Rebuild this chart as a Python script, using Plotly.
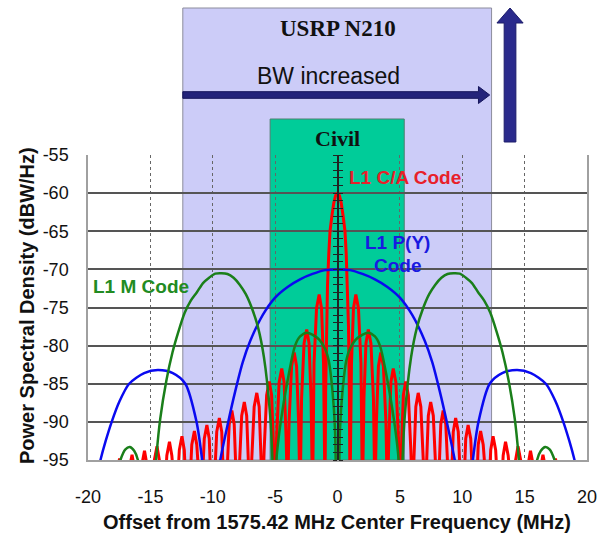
import plotly.graph_objects as go

# ---------------- data ----------------
x_ticks = [-20, -15, -10, -5, 0, 5, 10, 15, 20]
y_ticks = [-95, -90, -85, -80, -75, -70, -65, -60, -55]

# L1 C/A code spectrum, positive-frequency half (MHz, dBW/Hz); symmetric about 0
ca_x = [0, 0.15, 0.3, 0.45, 0.6, 0.7, 0.8, 0.88, 0.95, 1.0,
        1.12, 1.28, 1.47, 1.68, 1.88, 2.0,
        2.12, 2.28, 2.47, 2.68, 2.88, 3.0,
        3.12, 3.28, 3.47, 3.68, 3.88, 4.0,
        4.12, 4.28, 4.47, 4.68, 4.88, 5.0,
        5.12, 5.28, 5.47, 5.68, 5.88, 6.0,
        6.12, 6.28, 6.47, 6.68, 6.88, 7.0,
        7.12, 7.28, 7.47, 7.68, 7.88, 8.0,
        8.12, 8.28, 8.47, 8.68, 8.88, 9.0,
        9.12, 9.28, 9.47, 9.68, 9.88, 10.0,
        10.12, 10.28, 10.47, 10.68, 10.88, 11.0,
        11.12, 11.28, 11.47, 11.68, 11.88, 12.0,
        12.12, 12.28, 12.47, 12.68, 12.88, 13.0,
        13.12, 13.28, 13.47, 13.68, 13.88, 14.0,
        14.12, 14.28, 14.47, 14.68, 14.88, 15.0,
        15.12, 15.28, 15.47, 15.68, 15.88, 16.0,
        16.12, 16.28, 16.47, 16.68, 16.88, 17.0,
        17.12, 17.28, 17.47, 17.68, 17.88, 18.0]
ca_y = [-60, -60.3, -61.3, -63.0, -65.0, -68.0, -72.0, -77.5, -86.0, -100,
        -82.3, -75.1, -73.3, -75.1, -82.3, -100,
        -86.9, -79.7, -77.9, -79.7, -86.9, -100,
        -89.9, -82.7, -80.9, -82.7, -89.9, -100,
        -92.0, -84.8, -83.0, -84.8, -92.0, -100,
        -93.7, -86.5, -84.7, -86.5, -93.7, -100,
        -95.2, -88.0, -86.2, -88.0, -95.2, -100,
        -96.4, -89.2, -87.4, -89.2, -96.4, -100,
        -97.5, -90.3, -88.5, -90.3, -97.5, -100,
        -98.5, -91.3, -89.5, -91.3, -98.5, -100,
        -99.4, -92.2, -90.4, -92.2, -99.4, -100,
        -100, -93.0, -91.2, -93.0, -100, -100,
        -100, -93.7, -91.9, -93.7, -100, -100,
        -100, -94.4, -92.6, -94.4, -100, -100,
        -100, -95.0, -93.2, -95.0, -100, -100,
        -100, -95.6, -93.8, -95.6, -100, -100,
        -100, -96.1, -94.3, -96.1, -100, -100,
        -100, -96.6, -94.8, -96.6, -100, -100]

# L1 P(Y) code spectrum, positive half
py_x = [0, 1, 2, 3, 4, 5, 6, 7, 7.6, 8.2, 8.8, 9.4, 9.8, 10.25, 10.6, 10.85,
        11.3, 12.2, 13.2, 14.4, 15.5, 16.7, 17.5, 18.1, 18.6, 19.0, 19.4]
py_y = [-70, -70.1, -70.6, -71.3, -72.3, -73.7, -76.0, -79.4, -82.2, -86.0, -90.3, -95, -99, -106, -99, -95,
        -90, -85, -83.6, -83.2, -83.6, -85, -87.4, -90, -92.6, -95, -98]

# L1 M code spectrum, positive half
m_x = [0, 0.2, 0.4, 0.7, 1.0, 1.6, 2.45, 3.0, 3.4, 4.05, 4.55, 4.9, 5.05,
       5.2, 5.4, 5.9, 6.37, 6.86, 7.35, 7.84, 8.33, 8.82, 9.3, 9.8, 10.29, 10.78, 11.27,
       11.76, 12.25, 12.74, 13.23, 13.72, 14.21, 14.5, 14.7, 15.1,
       15.6, 16.0, 16.3, 16.65, 17.0, 17.4, 17.8]
m_y = [-110, -91, -86, -82, -80.4, -79.0, -78.3, -78.8, -80.0, -85, -90, -95, -106,
       -95.6, -89.1, -81.5, -77.6, -75.1, -73.25, -72.0, -71.1, -70.6, -70.5, -70.55, -71.1, -71.8, -73.0,
       -74.1, -75.7, -78.1, -80.9, -84.6, -89.6, -94.2, -98.9, -108,
       -100, -95, -93.8, -93.3, -93.6, -95, -98]

# bands (MHz)
usrp_band = [-12.4, 12.35]
civil_band = [-5.4, 5.35]


def mirror(xs, ys):
    return [-v for v in xs[:0:-1]] + list(xs), list(ys[:0:-1]) + list(ys)


# ---------------- figure ----------------
L, R, T, B = 88, 22, 155, 75
W, H = 609, 535
PH = H - T - B


def py2paper(py):
    return (H - B - py) / PH


fig = go.Figure()

cx, cy = mirror(ca_x, ca_y)
bx, by = mirror(py_x, py_y)
gx, gy = mirror(m_x, m_y)

fig.add_trace(go.Scatter(x=cx, y=cy, mode="lines", line=dict(color="#ff0000", width=3),
                         hoverinfo="skip", showlegend=False))
fig.add_trace(go.Scatter(x=bx, y=by, mode="lines",
                         line=dict(color="#0a0af0", width=2.5, shape="spline", smoothing=0.8),
                         hoverinfo="skip", showlegend=False))
fig.add_trace(go.Scatter(x=gx, y=gy, mode="lines",
                         line=dict(color="#1a7f1a", width=2.5, shape="spline", smoothing=0.8),
                         hoverinfo="skip", showlegend=False))
# carriers for the centre axis (ticks at 0 MHz)
fig.add_trace(go.Scatter(x=[0], y=[-75], yaxis="y2", mode="markers", marker=dict(opacity=0),
                         hoverinfo="skip", showlegend=False))
fig.add_trace(go.Scatter(x=[0], y=[-75], yaxis="y3", mode="markers", marker=dict(opacity=0),
                         hoverinfo="skip", showlegend=False))

shapes = []
shapes.append(dict(type="rect", xref="x", yref="paper", x0=usrp_band[0], x1=usrp_band[1],
                   y0=0, y1=py2paper(8), fillcolor="#ccccf8", line=dict(color="#8c8c9c", width=1),
                   layer="below"))
shapes.append(dict(type="rect", xref="x", yref="paper", x0=civil_band[0], x1=civil_band[1],
                   y0=0, y1=py2paper(119), fillcolor="#00cc99", line=dict(color="#4f7f70", width=1),
                   layer="below"))

# horizontal arrow "BW increased"
ay = py2paper(95)
sh = 3.3 / PH
hh = 8.5 / PH
tip = usrp_band[1] - 0.15
hb = tip - 0.9
path = (f"M {usrp_band[0]},{ay - sh} L {hb},{ay - sh} L {hb},{ay - hh} L {tip},{ay} "
        f"L {hb},{ay + hh} L {hb},{ay + sh} L {usrp_band[0]},{ay + sh} Z")
shapes.append(dict(type="path", xref="x", yref="paper", path=path, fillcolor="#23237a",
                   line=dict(color="#15155a", width=1), layer="above"))

# vertical arrow
vx = 13.83
sw = 0.47
hw = 1.05
yb, yh, yt = py2paper(142), py2paper(23), py2paper(8)
vpath = (f"M {vx - sw},{yb} L {vx + sw},{yb} L {vx + sw},{yh} L {vx + hw},{yh} L {vx},{yt} "
         f"L {vx - hw},{yh} L {vx - sw},{yh} Z")
shapes.append(dict(type="path", xref="x", yref="paper", path=vpath, fillcolor="#2a2a8c",
                   line=dict(color="#1c1c6a", width=1), layer="above"))

SANS = "Liberation Sans, Arial, sans-serif"
SERIF = "Liberation Serif, Times New Roman, serif"

annotations = [
    dict(text="<b>USRP N210</b>", x=0, xref="x", y=py2paper(28), yref="paper",
         font=dict(family=SERIF, size=23, color="#111111")),
    dict(text="BW increased", x=-0.76, xref="x", y=py2paper(76), yref="paper",
         font=dict(family=SANS, size=23, color="#111111")),
    dict(text="<b>Civil</b>", x=0, xref="x", y=py2paper(138), yref="paper",
         font=dict(family=SERIF, size=22, color="#111111")),
    dict(text="<b>L1 C/A Code</b>", x=5.4, xref="x", y=py2paper(177), yref="paper",
         font=dict(family=SANS, size=19, color="#e8202a")),
    dict(text="<b>L1 P(Y)</b>", x=4.77, xref="x", y=py2paper(242), yref="paper",
         font=dict(family=SANS, size=19, color="#1a1ae0")),
    dict(text="<b>Code</b>", x=4.85, xref="x", y=py2paper(265), yref="paper",
         font=dict(family=SANS, size=19, color="#1a1ae0")),
    dict(text="<b>L1 M Code</b>", x=-15.75, xref="x", y=py2paper(286), yref="paper",
         font=dict(family=SANS, size=19, color="#228b22")),
    dict(text="<b>Offset from 1575.42 MHz Center Frequency (MHz)</b>", x=(337 - L) / (W - L - R),
         xref="paper", y=py2paper(522), yref="paper",
         font=dict(family=SANS, size=20, color="#111111")),
    dict(text="<b>Power Spectral Density (dBW/Hz)</b>", x=(27 - L) / (W - L - R), xref="paper",
         y=py2paper(306), yref="paper", textangle=-90,
         font=dict(family=SANS, size=20, color="#111111")),
]
for a in annotations:
    a.update(showarrow=False, xanchor="center", yanchor="middle")

fig.update_layout(
    width=W, height=H, margin=dict(l=L, r=R, t=T, b=B, pad=0),
    paper_bgcolor="white", plot_bgcolor="white", showlegend=False,
    shapes=shapes, annotations=annotations,
    xaxis=dict(range=[-20, 20], tickvals=x_ticks, ticktext=[str(v) for v in x_ticks],
               showgrid=True, gridcolor="#666666", griddash="dot", gridwidth=1,
               zeroline=False, showline=True, mirror=False, linecolor="#a0a0a0", linewidth=1.5,
               ticks="", ticklabelstandoff=20,
               tickfont=dict(family=SANS, size=18, color="#111111")),
    yaxis=dict(range=[-95, -55], tickvals=y_ticks, ticktext=[str(v) for v in y_ticks],
               showgrid=True, gridcolor="#555555", gridwidth=1.5,
               zeroline=False, showline=True, mirror=True, linecolor="#a0a0a0", linewidth=1.5,
               ticks="", ticklabelstandoff=14,
               tickfont=dict(family=SANS, size=18, color="#111111")),
    yaxis2=dict(overlaying="y", anchor="free", position=0.5, side="left", range=[-95, -55],
                showgrid=False, zeroline=False, showticklabels=False, ticks="outside",
                ticklen=4, tickwidth=1, tickcolor="#222222", tick0=-95, dtick=1,
                showline=True, linecolor="#222222", linewidth=1.5),
    yaxis3=dict(overlaying="y", anchor="free", position=0.5, side="right", range=[-95, -55],
                showgrid=False, zeroline=False, showticklabels=False, ticks="outside",
                ticklen=4, tickwidth=1, tickcolor="#222222", tick0=-95, dtick=1,
                showline=False),
)

fig.write_html("out.html", config={"displayModeBar": False},
               post_script="document.body.style.margin='0px';")
